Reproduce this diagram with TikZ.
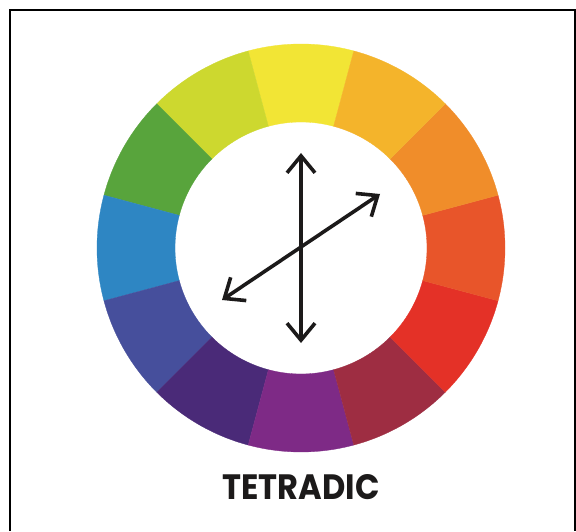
\documentclass[tikz,border=0pt]{standalone}
\usepackage{fontspec}
\usepackage{graphicx}
\newfontfamily\popfont{Poppins}
\usetikzlibrary{arrows.meta}
\definecolor{cY}{HTML}{F2E535}
\definecolor{cYG}{HTML}{CDD82F}
\definecolor{cG}{HTML}{58A43C}
\definecolor{cB}{HTML}{2E86C3}
\definecolor{cBV}{HTML}{464F9C}
\definecolor{cI}{HTML}{4A2A78}
\definecolor{cP}{HTML}{7E2A86}
\definecolor{cRV}{HTML}{9E2D42}
\definecolor{cR}{HTML}{E43127}
\definecolor{cRO}{HTML}{E8552A}
\definecolor{cO}{HTML}{F08D2A}
\definecolor{cYO}{HTML}{F4B42B}
\definecolor{ink}{HTML}{1C1A1A}
\tikzset{
  seg/.style={line width=0.3pt},
  dblarrow/.style={draw=ink, line width=3.6pt,
    {Straight Barb[length=17pt,width=28pt]}-{Straight Barb[length=17pt,width=28pt]}},
  frameline/.style={line width=2pt, black},
  title/.style={inner sep=0pt, anchor=base, text=ink}
}
\begin{document}
\begin{tikzpicture}[x=1pt,y=1pt]
\useasboundingbox (0,0) rectangle (576,531);
\fill[white] (0,0) rectangle (576,531);
% frame
\draw[frameline] (10,0) -- (10,521) -- (575,521) -- (575,0);
% colour wheel
\begin{scope}[shift={(301,283)}]
\foreach \c [count=\i from 0] in {cY,cYG,cG,cB,cBV,cI,cP,cRV,cR,cRO,cO,cYO}{
  \pgfmathsetmacro{\a}{75+30*\i}
  \pgfmathsetmacro{\b}{105+30*\i}
  \fill[\c, seg, draw=\c] (\a:204) arc[start angle=\a, end angle=\b, radius=204]
     -- (\b:126) arc[start angle=\b, end angle=\a, radius=126] -- cycle;
}
\end{scope}
% arrows
\coordinate (vt) at (301,378);
\coordinate (vb) at (301,188);
\coordinate (dl) at (222,231);
\coordinate (dr) at (380,337);
\draw[dblarrow] (vb) -- (vt);
\draw[dblarrow] (dl) -- (dr);
% title
\node[title] (t) at (301,32) {\resizebox{157pt}{25pt}{\popfont\bfseries TETRADIC}};
\end{tikzpicture}
\end{document}
